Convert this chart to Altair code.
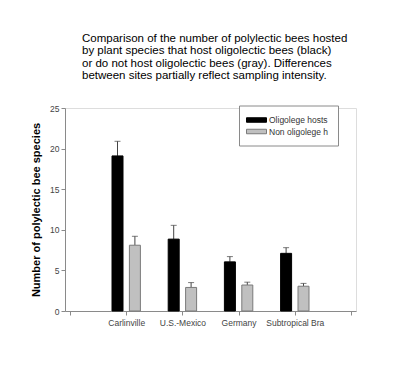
import json
import altair as alt
import pandas as pd

# ---- data ----
sites = ["Carlinville", "U.S.-Mexico", "Germany", "Subtropical Bra"]
series_names = ["Oligolege hosts", "Non oligolege h"]
olig_mean = [19.1, 8.85, 6.05, 7.1]
olig_upper = [20.9, 10.55, 6.7, 7.8]
non_mean = [8.1, 2.9, 3.2, 3.05]
non_upper = [9.2, 3.5, 3.55, 3.4]
y_ticks = [0, 5, 10, 15, 20, 25]
x_ticks = [0, 1, 2, 3, 4, 5]
title_lines = [
    "Comparison of the number of polylectic bees hosted",
    "by plant species that host oligolectic bees (black)",
    "or do not host oligolectic bees (gray).  Differences",
    "between sites partially reflect sampling intensity.",
]

rows = []
for i, s in enumerate(sites):
    rows.append({"site": s, "pos": i + 1, "series": series_names[0],
                 "value": olig_mean[i], "upper": olig_upper[i]})
    rows.append({"site": s, "pos": i + 1, "series": series_names[1],
                 "value": non_mean[i], "upper": non_upper[i]})
df = pd.DataFrame(rows)

FONT = "Liberation Sans"
AX = "#8a8a8a"

label_expr = ("datum.value >= 1 && datum.value <= 4 ? " + json.dumps(sites)
              + "[datum.value - 1] : ''")

x_enc = alt.X(
    "pos:Q",
    scale=alt.Scale(domain=[0, 5], nice=False, zero=False),
    axis=alt.Axis(values=x_ticks, labelExpr=label_expr, title=None, grid=False,
                  tickSize=4, labelPadding=3, labelFontSize=8.5, labelColor="#444",
                  labelFont=FONT, domainColor=AX, tickColor=AX, labelFlush=False,
                  labelOverlap=False),
)
y_enc = alt.Y(
    "value:Q",
    scale=alt.Scale(domain=[0, 25], nice=False),
    axis=alt.Axis(values=y_ticks, title="Number of polylectic bee species",
                  grid=False, tickSize=4, labelPadding=2, labelFontSize=8.5,
                  labelColor="#444", labelFont=FONT, titleFont=FONT,
                  titleFontSize=11, titleFontWeight="bold", titleColor="black",
                  titlePadding=8, domainColor=AX, tickColor=AX),
)

color_scale = alt.Scale(domain=series_names, range=["#000000", "#c0c0c0"])
stroke_scale = alt.Scale(domain=series_names, range=["#000000", "#7a7a7a"])
legend = alt.Legend(
    title=None, orient="none", legendX=174, legendY=-2.5,
    symbolType="M-1.4,-0.45H2.6V0.45H-1.4Z", symbolSize=100, symbolStrokeWidth=1,
    labelFont=FONT, labelFontSize=8.5, labelColor="#333", labelOffset=10,
    labelLimit=200, rowPadding=1.5, padding=9, fillColor="white",
    strokeColor=AX, symbolOpacity=1,
)

base = alt.Chart(df)


def series_layers(name, off):
    sub = base.transform_filter(alt.datum.series == name)
    bars = sub.mark_bar(size=11, xOffset=off, strokeWidth=1, opacity=1).encode(
        x=x_enc, y=y_enc,
        color=alt.Color("series:N", scale=color_scale, legend=legend),
        stroke=alt.Stroke("series:N", scale=stroke_scale, legend=legend),
    )
    err = sub.mark_rule(xOffset=off, color="#444", strokeWidth=1).encode(
        x=x_enc, y=alt.Y("value:Q"), y2="upper:Q")
    cap = sub.mark_tick(xOffset=off, orient="horizontal", size=6, thickness=1,
                        color="#444").encode(x=x_enc, y=alt.Y("upper:Q"))
    return [err, cap, bars]


chart = alt.layer(
    *series_layers(series_names[0], -8.7),
    *series_layers(series_names[1], 8.7),
).properties(
    width=291, height=203,
    autosize=alt.AutoSizeParams(type="none"),
    padding={"left": 57, "top": 100, "right": 36, "bottom": 40},
    title=alt.TitleParams(text=title_lines, anchor="start", frame="group", dx=17,
                          offset=22, font=FONT, fontSize=11.5, fontWeight="normal",
                          color="black", lineHeight=12.6),
).configure_view(stroke=AX, strokeWidth=1).configure(background="white")

chart.save("out.html", embed_options={"renderer": "svg", "actions": False})
